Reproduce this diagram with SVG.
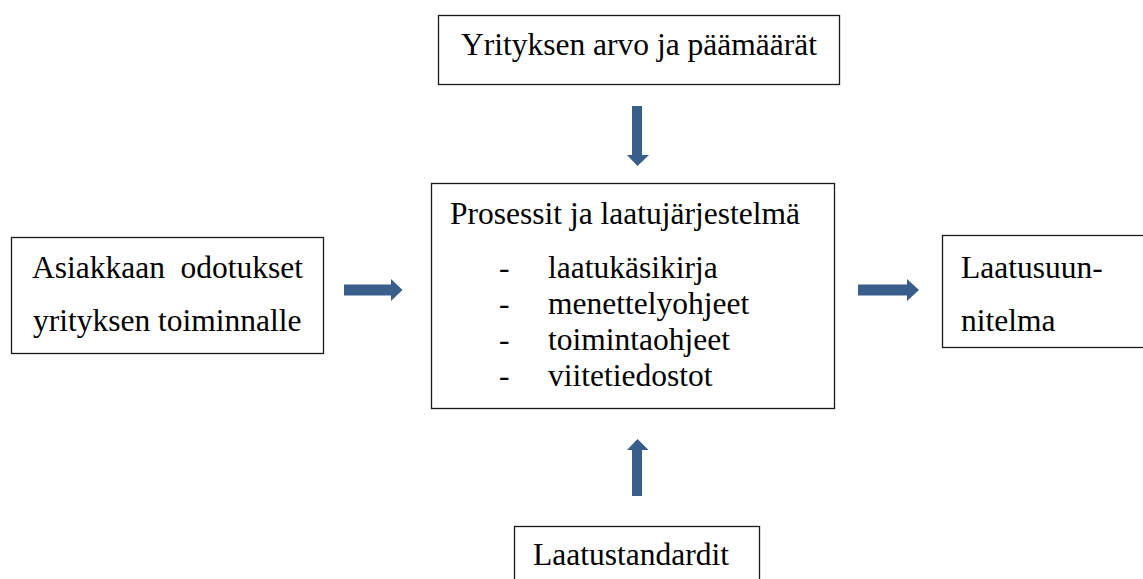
<svg xmlns="http://www.w3.org/2000/svg" width="1143" height="579" viewBox="0 0 1143 579">
<style>
.box{fill:#fff;stroke:#1a1a1a;stroke-width:1.3}
.lbl{font-size:31.5px;fill:#000}
.arr{fill:#3a5e8c}
</style>
<rect width="1143" height="579" fill="#fff"/>
<g id="node-values">
<rect class="box" x="438.5" y="15.5" width="401" height="69"/>
<text class="lbl" font-family="Liberation Serif" style="font-family:'Liberation Serif','Times New Roman',serif" x="639" y="55" text-anchor="middle">Yrityksen arvo ja päämäärät</text>
</g>
<g id="node-customer">
<rect class="box" x="11.5" y="237.5" width="312" height="116"/>
<text class="lbl" font-family="Liberation Serif" style="font-family:'Liberation Serif','Times New Roman',serif" x="32" y="278">Asiakkaan</text>
<text class="lbl" font-family="Liberation Serif" style="font-family:'Liberation Serif','Times New Roman',serif" x="303" y="278" text-anchor="end">odotukset</text>
<text class="lbl" font-family="Liberation Serif" style="font-family:'Liberation Serif','Times New Roman',serif" x="33" y="331">yrityksen toiminnalle</text>
</g>
<g id="node-process">
<rect class="box" x="431.5" y="183.5" width="403" height="225"/>
<text class="lbl" font-family="Liberation Serif" style="font-family:'Liberation Serif','Times New Roman',serif" x="450" y="224">Prosessit ja laatujärjestelmä</text>
<text class="lbl" font-family="Liberation Serif" style="font-family:'Liberation Serif','Times New Roman',serif" x="499" y="278">-</text>
<text class="lbl" font-family="Liberation Serif" style="font-family:'Liberation Serif','Times New Roman',serif" x="548" y="278">laatukäsikirja</text>
<text class="lbl" font-family="Liberation Serif" style="font-family:'Liberation Serif','Times New Roman',serif" x="499" y="314">-</text>
<text class="lbl" font-family="Liberation Serif" style="font-family:'Liberation Serif','Times New Roman',serif" x="548" y="314">menettelyohjeet</text>
<text class="lbl" font-family="Liberation Serif" style="font-family:'Liberation Serif','Times New Roman',serif" x="499" y="350">-</text>
<text class="lbl" font-family="Liberation Serif" style="font-family:'Liberation Serif','Times New Roman',serif" x="548" y="350">toimintaohjeet</text>
<text class="lbl" font-family="Liberation Serif" style="font-family:'Liberation Serif','Times New Roman',serif" x="499" y="386">-</text>
<text class="lbl" font-family="Liberation Serif" style="font-family:'Liberation Serif','Times New Roman',serif" x="548" y="386">viitetiedostot</text>
</g>
<g id="node-plan">
<rect class="box" x="942.5" y="235.5" width="220" height="112"/>
<text class="lbl" font-family="Liberation Serif" style="font-family:'Liberation Serif','Times New Roman',serif" x="961" y="278">Laatusuun-</text>
<text class="lbl" font-family="Liberation Serif" style="font-family:'Liberation Serif','Times New Roman',serif" x="961" y="331">nitelma</text>
</g>
<g id="node-standards">
<rect class="box" x="514.5" y="526.5" width="245" height="70"/>
<text class="lbl" font-family="Liberation Serif" style="font-family:'Liberation Serif','Times New Roman',serif" x="533" y="565">Laatustandardit</text>
</g>
<g id="connectors">
<polygon class="arr" points="632,106 642,106 642,155 649,155 637.5,166 627,155 632,155"/>
<polygon class="arr" points="344,284.5 391,284.5 391,279 402.5,290 391,301 391,295.5 344,295.5"/>
<polygon class="arr" points="858,284.5 907,284.5 907,279 919,290 907,301 907,295.5 858,295.5"/>
<polygon class="arr" points="632,496 642,496 642,450 648.5,450 637.5,439 627,450 632,450"/>
</g>
</svg>
